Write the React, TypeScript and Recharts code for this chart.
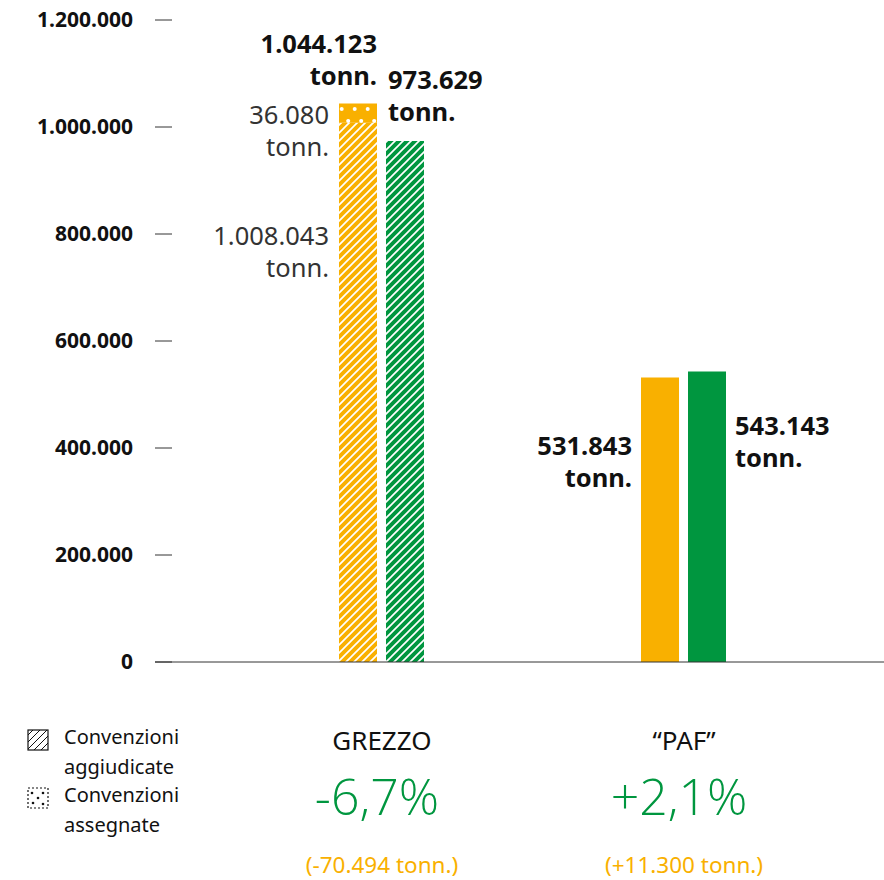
import React from 'react';
import { BarChart, Bar, XAxis, YAxis, Cell, LabelList } from 'recharts';

const categories = ['GREZZO', '\u201CPAF\u201D'];
const aggiudicate = [1008043, 531843];
const assegnate = [36080, 0];
const current = [973629, 543143];
const changePct = ['-6,7%', '+2,1%'];
const changeTonn = ['(-70.494 tonn.)', '(+11.300 tonn.)'];
const yTicks = [0, 200000, 400000, 600000, 800000, 1000000, 1200000];
const legendItems = ['Convenzioni aggiudicate', 'Convenzioni assegnate'];
const unit = 'tonn.';

const YELLOW = '#F9B000';
const GREEN = '#00963F';
const FONT = '"Noto Sans", "Open Sans", sans-serif';

const fmt = (n: number) => String(n).replace(/\B(?=(\d{3})+(?!\d))/g, '.');

const data = categories.map((c, i) => ({
  name: c,
  agg: aggiudicate[i],
  ass: assegnate[i],
  cur: current[i],
}));

const TwoLine = ({ x, cy, anchor, lines, bold }: any) => (
  <text
    textAnchor={anchor}
    fontFamily={FONT}
    fontSize={25.5}
    fontWeight={bold ? 700 : 400}
    fill={bold ? '#111' : '#333'}
  >
    {lines.map((l: string, k: number) => (
      <tspan key={k} x={x} y={cy + k * 32 + 9}>
        {l}
      </tspan>
    ))}
  </text>
);

const aggLabel = (p: any) => {
  const x = Number(p.x), y = Number(p.y), i = p.index;
  if (i === 0) return <TwoLine x={x - 10} cy={y + 113} anchor="end" lines={[fmt(aggiudicate[0]), unit]} bold={false} />;
  return <TwoLine x={x - 9} cy={y + 69} anchor="end" lines={[fmt(aggiudicate[1]), unit]} bold />;
};

const assLabel = (p: any) => {
  const x = Number(p.x), y = Number(p.y), w = Number(p.width), i = p.index;
  if (!assegnate[i]) return null;
  return (
    <g>
      <TwoLine x={x - 10} cy={y + 12} anchor="end" lines={[fmt(assegnate[i]), unit]} bold={false} />
      <TwoLine x={x + w} cy={y - 59} anchor="end" lines={[fmt(aggiudicate[i] + assegnate[i]), unit]} bold />
    </g>
  );
};

const curLabel = (p: any) => {
  const x = Number(p.x), y = Number(p.y), w = Number(p.width), i = p.index;
  if (i === 0) return <TwoLine x={x + 2} cy={y - 61} anchor="start" lines={[fmt(current[0]), unit]} bold />;
  return <TwoLine x={x + w + 9} cy={y + 55} anchor="start" lines={[fmt(current[1]), unit]} bold />;
};

const YTick = (p: any) => {
  const x = Number(p.x), y = Number(p.y);
  return (
    <g>
      <line x1={x} x2={x + 17} y1={y} y2={y} stroke="#333" strokeWidth={1} />
      <text x={x - 22} y={y + 7} textAnchor="end" fontFamily={FONT} fontSize={21} fontWeight={700} fill="#111">
        {fmt(p.payload.value)}
      </text>
    </g>
  );
};

const XTick = (p: any) => {
  const x = Number(p.x), y = Number(p.y), i = p.index;
  return (
    <g fontFamily={FONT}>
      <text x={x + 1} y={y + 88} textAnchor="middle" fontSize={26} fill="#111">
        {categories[i]}
      </text>
      <text
        x={x - 4}
        y={y + 153}
        textAnchor="middle"
        fontSize={50}
        fontWeight={300}
        fontFamily='"Open Sans", "Noto Sans", sans-serif'
        fill={GREEN}
      >
        {changePct[i]}
      </text>
      <text x={x + 1} y={y + 211} textAnchor="middle" fontSize={22.5} fill={YELLOW}>
        {changeTonn[i]}
      </text>
    </g>
  );
};

const Patterns = () => (
  <svg width={0} height={0} style={{ position: 'absolute' }}>
    <defs>
      <pattern id="hatchY" patternUnits="userSpaceOnUse" width={8} height={8}>
        <rect width={8} height={8} fill={YELLOW} />
        <path d="M0,8 L8,0 M-2,2 L2,-2 M6,10 L10,6" stroke="#fff" strokeWidth={1.7} />
      </pattern>
      <pattern id="hatchG" patternUnits="userSpaceOnUse" width={8} height={8}>
        <rect width={8} height={8} fill={GREEN} />
        <path d="M0,8 L8,0 M-2,2 L2,-2 M6,10 L10,6" stroke="#fff" strokeWidth={1.7} />
      </pattern>
      <pattern id="dotsY" patternUnits="userSpaceOnUse" width={13} height={24}>
        <rect width={13} height={24} fill={YELLOW} />
        <circle cx={3.7} cy={13} r={2} fill="#fff" />
        <circle cx={10.2} cy={1} r={2} fill="#fff" />
        <circle cx={10.2} cy={25} r={2} fill="#fff" />
      </pattern>
      <pattern id="hatchK" patternUnits="userSpaceOnUse" width={7} height={7}>
        <path d="M0,7 L7,0 M-2,2 L2,-2 M5,9 L9,5" stroke="#111" strokeWidth={1} />
      </pattern>
    </defs>
  </svg>
);

const Legend = () => (
  <div style={{ position: 'absolute', left: 0, top: 0, fontFamily: FONT, fontSize: 20, color: '#111' }}>
    <svg width={22} height={22} style={{ position: 'absolute', left: 27, top: 729 }}>
      <rect x={1} y={1} width={20} height={20} fill="url(#hatchK)" stroke="#111" strokeWidth={1.2} />
    </svg>
    <svg width={22} height={22} style={{ position: 'absolute', left: 27, top: 787 }}>
      <rect x={1} y={1} width={20} height={20} fill="#fff" stroke="#111" strokeWidth={1.2} strokeDasharray="2 2" />
      <circle cx={5} cy={6} r={1.3} fill="#111" />
      <circle cx={16} cy={6} r={1.3} fill="#111" />
      <circle cx={11} cy={11} r={1.3} fill="#111" />
      <circle cx={6} cy={16} r={1.3} fill="#111" />
      <circle cx={16} cy={17} r={1.3} fill="#111" />
    </svg>
    {legendItems.map((t, k) => (
      <div
        key={k}
        style={{ position: 'absolute', left: 64, top: 722 + k * 58, width: 140, lineHeight: '30px' }}
      >
        {t.split(' ').map((w, j) => (
          <div key={j}>{w}</div>
        ))}
      </div>
    ))}
  </div>
);

export default function App() {
  return (
    <div style={{ position: 'absolute', left: 0, top: 0, width: 884, height: 880, background: '#fff' }}>
      <Patterns />
      <BarChart
        width={884}
        height={880}
        data={data}
        margin={{ top: 20, right: 0, bottom: 0, left: 0 }}
        barSize={38}
        barGap={9}
      >
        <XAxis
          dataKey="name"
          padding={{ left: 75, right: 50 }}
          height={218}
          tickLine={false}
          tickSize={0}
          tickMargin={0}
          axisLine={{ stroke: '#333', strokeWidth: 1 }}
          tick={XTick}
          interval={0}
        />
        <YAxis
          width={155}
          domain={[0, 1200000]}
          ticks={yTicks}
          axisLine={false}
          tickLine={false}
          tickSize={0}
          tickMargin={0}
          tick={YTick}
          interval={0}
        />
        <Bar dataKey="agg" stackId="prev" isAnimationActive={false}>
          {data.map((_, i) => (
            <Cell key={i} fill={i === 0 ? 'url(#hatchY)' : YELLOW} />
          ))}
          <LabelList dataKey="agg" content={aggLabel} />
        </Bar>
        <Bar dataKey="ass" stackId="prev" isAnimationActive={false} fill="url(#dotsY)">
          <LabelList dataKey="ass" content={assLabel} />
        </Bar>
        <Bar dataKey="cur" isAnimationActive={false}>
          {data.map((_, i) => (
            <Cell key={i} fill={i === 0 ? 'url(#hatchG)' : GREEN} />
          ))}
          <LabelList dataKey="cur" content={curLabel} />
        </Bar>
      </BarChart>
      <Legend />
    </div>
  );
}
